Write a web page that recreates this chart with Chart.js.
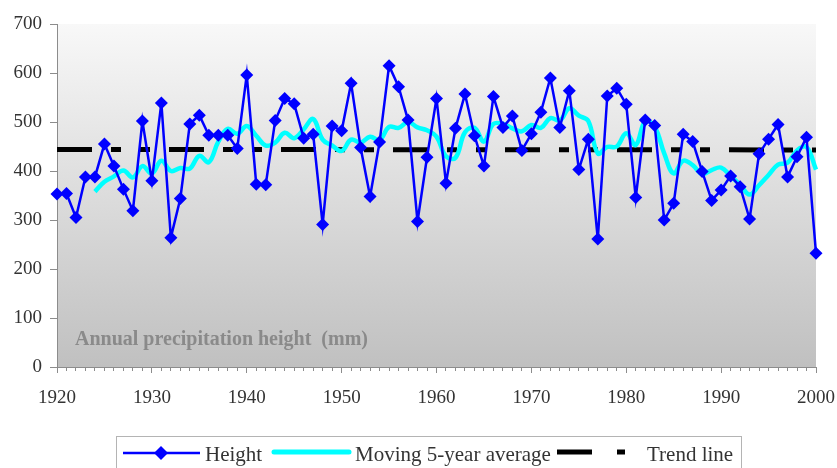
<!DOCTYPE html>
<html lang="en">
<head>
    <meta charset="UTF-8">
    <title>Annual precipitation height</title>
    <script src="https://cdn.jsdelivr.net/npm/chart.js"></script>
    <style>
        html, body { margin: 0; padding: 0; background: #fff; }
        .chart-container { width: 837px; height: 468px; }
    </style>
</head>
<body>
    <div class="chart-container">
        <canvas id="rainChart" width="837" height="468"></canvas>
    </div>

    <script>
        // years of the record
        const years = [
            1920, 1921, 1922, 1923, 1924, 1925, 1926, 1927, 1928, 1929,
            1930, 1931, 1932, 1933, 1934, 1935, 1936, 1937, 1938, 1939,
            1940, 1941, 1942, 1943, 1944, 1945, 1946, 1947, 1948, 1949,
            1950, 1951, 1952, 1953, 1954, 1955, 1956, 1957, 1958, 1959,
            1960, 1961, 1962, 1963, 1964, 1965, 1966, 1967, 1968, 1969,
            1970, 1971, 1972, 1973, 1974, 1975, 1976, 1977, 1978, 1979,
            1980, 1981, 1982, 1983, 1984, 1985, 1986, 1987, 1988, 1989,
            1990, 1991, 1992, 1993, 1994, 1995, 1996, 1997, 1998, 1999,
            2000
        ];
        // annual height (mm)
        const heights = [
            353, 354, 305, 388, 388, 455, 410, 363, 319, 502,
            380, 539, 264, 344, 496, 514, 473, 473, 473, 446,
            596, 373, 372, 503, 548, 537, 467, 475, 291, 492,
            482, 579, 448, 348, 459, 615, 572, 504, 297, 428,
            548, 375, 487, 557, 472, 410, 552, 489, 512, 442,
            476, 520, 590, 489, 564, 403, 465, 261, 553, 569,
            536, 346, 504, 493, 300, 334, 475, 460, 399, 340,
            361, 390, 368, 302, 435, 465, 495, 388, 429, 469,
            232
        ];
        // moving 5-year average, 1924 -> 2000
        const avgYears = years.slice(4);
        const movingAvg = [
            358, 378, 389, 401, 387, 410,
            395, 421, 400, 406, 405, 431, 418, 460, 486, 476,
            492, 472, 452, 458, 478, 467, 485, 506, 464, 452,
            441, 464, 458, 470, 463, 490, 488, 500, 489, 483,
            470, 430, 427, 479, 488, 460, 496, 496, 487, 481,
            494, 488, 508, 503, 528, 513, 502, 436, 449, 450,
            477, 453, 502, 490, 436, 395, 421, 412, 394, 402,
            407, 390, 372, 352, 371, 392, 413, 417, 442, 449,
            403
        ];
        // trend line end points
        const trendYears = [1920, 2000];
        const trendValues = [444, 443];

        const yTicks = [0, 100, 200, 300, 400, 500, 600, 700];
        const seriesNames = ['Height', 'Moving 5-year average', 'Trend line'];
        const chartNote = 'Annual precipitation height  (mm)';

        const serif = '"Liberation Serif", "Times New Roman", serif';
        const axisGray = '#8c8c8c';

        const pts = (xs, ys) => xs.map((x, i) => ({ x: x, y: ys[i] }));

        // plot background, inner caption and boxed legend
        const decor = {
            id: 'decor',
            beforeDraw(chart) {
                const { ctx, chartArea: a } = chart;
                ctx.save();
                ctx.fillStyle = '#fff';
                ctx.fillRect(0, 0, chart.width, chart.height);
                const g = ctx.createLinearGradient(0, a.top, 0, a.bottom);
                g.addColorStop(0, '#f8f8f8');
                g.addColorStop(1, '#c0c0c0');
                ctx.fillStyle = g;
                ctx.fillRect(a.left, a.top, a.right - a.left, a.bottom - a.top);
                ctx.restore();
            },
            beforeDatasetsDraw(chart) {
                const { ctx, chartArea: a } = chart;
                ctx.save();
                ctx.font = 'bold 20px ' + serif;
                ctx.fillStyle = '#8a8a8a';
                ctx.textBaseline = 'alphabetic';
                ctx.fillText(chartNote, a.left + 18, a.bottom - 22);
                ctx.restore();
            },
            afterDraw(chart) {
                const ctx = chart.ctx;
                const ds = chart.data.datasets;
                const y = 453;
                ctx.save();
                ctx.strokeStyle = '#b4b4b4';
                ctx.lineWidth = 1;
                ctx.strokeRect(116.5, 436.5, 625, 40);

                // Height
                ctx.strokeStyle = ds[0].borderColor;
                ctx.lineWidth = 2.5;
                ctx.beginPath(); ctx.moveTo(123, y); ctx.lineTo(200, y); ctx.stroke();
                ctx.fillStyle = ds[0].borderColor;
                ctx.beginPath();
                ctx.moveTo(161 - 7, y); ctx.lineTo(161, y - 7);
                ctx.lineTo(161 + 7, y); ctx.lineTo(161, y + 7);
                ctx.closePath(); ctx.fill();

                // moving average
                ctx.strokeStyle = ds[1].borderColor;
                ctx.lineWidth = 5;
                ctx.lineCap = 'round';
                ctx.beginPath(); ctx.moveTo(274, y - 1); ctx.lineTo(349, y - 1); ctx.stroke();
                ctx.lineCap = 'butt';

                // trend
                ctx.fillStyle = ds[2].borderColor;
                ctx.fillRect(557, y - 3.5, 35, 5);
                ctx.fillRect(617, y - 3.5, 8, 5);

                ctx.font = '21px ' + serif;
                ctx.fillStyle = '#333';
                ctx.textBaseline = 'alphabetic';
                ctx.fillText(ds[0].label, 205, 461);
                ctx.fillText(ds[1].label, 355, 461);
                ctx.fillText(ds[2].label, 647, 461);
                ctx.restore();
            }
        };

        new Chart(document.getElementById('rainChart'), {
            type: 'line',
            data: {
                datasets: [
                    {
                        label: seriesNames[0],
                        data: pts(years, heights),
                        borderColor: '#0000ff',
                        backgroundColor: '#0000ff',
                        borderWidth: 2.5,
                        tension: 0,
                        pointStyle: 'rectRot',
                        pointRadius: 6.5,
                        pointBorderWidth: 0,
                        clip: false,
                        order: 0
                    },
                    {
                        label: seriesNames[1],
                        data: pts(avgYears, movingAvg),
                        borderColor: '#00ffff',
                        backgroundColor: '#00ffff',
                        borderWidth: 4.5,
                        tension: 0.4,
                        pointRadius: 0,
                        clip: false,
                        order: 1
                    },
                    {
                        label: seriesNames[2],
                        data: pts(trendYears, trendValues),
                        borderColor: '#000000',
                        backgroundColor: '#000000',
                        borderWidth: 5,
                        borderDash: [35, 19, 10, 19, 10, 19],
                        tension: 0,
                        pointRadius: 0,
                        order: 2
                    }
                ]
            },
            options: {
                responsive: false,
                animation: false,
                events: [],
                layout: { padding: { left: 0, right: 21, top: 24, bottom: 41 } },
                plugins: {
                    legend: { display: false },
                    tooltip: { enabled: false }
                },
                scales: {
                    x: {
                        type: 'linear',
                        position: 'bottom',
                        weight: 1,
                        min: 1920,
                        max: 2000,
                        ticks: {
                            stepSize: 10,
                            autoSkip: false,
                            maxRotation: 0,
                            padding: 14,
                            color: '#333',
                            font: { family: serif, size: 19 },
                            callback: v => String(v)
                        },
                        grid: { drawOnChartArea: false, tickLength: 6, color: axisGray },
                        border: { color: axisGray, width: 1 },
                        afterFit: s => { s.height = 60; s.paddingLeft = 0; s.paddingRight = 0; }
                    },
                    xMinor: {
                        type: 'linear',
                        position: 'bottom',
                        weight: 0,
                        min: 1920,
                        max: 2000,
                        ticks: { display: false, stepSize: 1 },
                        grid: { drawOnChartArea: false, tickLength: 4, color: axisGray },
                        border: { color: axisGray, width: 1 },
                        afterFit: s => { s.height = 0; s.paddingLeft = 0; s.paddingRight = 0; }
                    },
                    y: {
                        min: 0,
                        max: 700,
                        afterBuildTicks: s => { s.ticks = yTicks.map(v => ({ value: v })); },
                        ticks: {
                            padding: 8,
                            color: '#333',
                            font: { family: serif, size: 19 }
                        },
                        grid: { drawOnChartArea: false, tickLength: 7, color: axisGray },
                        border: { color: axisGray, width: 1 },
                        afterFit: s => { s.width = 57; s.paddingTop = 0; s.paddingBottom = 0; }
                    }
                }
            },
            plugins: [decor]
        });
    </script>
</body>
</html>
